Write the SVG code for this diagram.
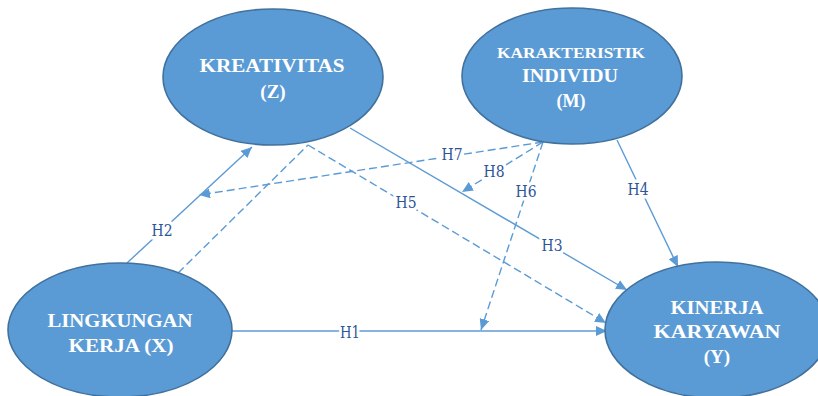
<svg xmlns="http://www.w3.org/2000/svg" width="818" height="396" viewBox="0 0 818 396">
<defs>
<marker id="ah" markerUnits="userSpaceOnUse" markerWidth="12" markerHeight="10" refX="11" refY="5" orient="auto">
<path d="M0,0 L11,5 L0,10 Z" fill="#5b9bd5"/>
</marker>
<style>
.node ellipse{fill:#5b9bd5;stroke:#41719c;stroke-width:1.6}
.node text{fill:#fff;font-family:"Liberation Serif","Times New Roman",serif;font-weight:bold;text-anchor:middle}
.c line{stroke:#5b9bd5;stroke-width:1.4;fill:none}
.c .d{stroke-dasharray:8 4}
.lbl{fill:#2e5597;font-family:"DejaVu Serif","Liberation Serif",serif;font-size:16px;text-anchor:middle;stroke:#fff;stroke-width:7;paint-order:stroke;stroke-linejoin:round}
</style>
</defs>
<rect width="818" height="396" fill="#fff"/>
<g class="c" id="connectors">
<line x1="232" y1="331" x2="607" y2="331" marker-end="url(#ah)"/>
<line x1="127" y1="263" x2="252" y2="147" marker-end="url(#ah)"/>
<line x1="350" y1="128" x2="627" y2="290" marker-end="url(#ah)"/>
<line x1="617" y1="140" x2="678" y2="267" marker-end="url(#ah)"/>
<line class="d" x1="308" y1="145" x2="606" y2="323" marker-end="url(#ah)"/>
<line class="d" x1="178" y1="273" x2="308" y2="145"/>
<line class="d" x1="543" y1="142" x2="481" y2="330" marker-end="url(#ah)"/>
<line class="d" x1="543" y1="142" x2="199" y2="195" marker-end="url(#ah)"/>
<line class="d" x1="543" y1="142" x2="462" y2="192" marker-end="url(#ah)"/>
<text class="lbl" x="350" y="338" textLength="20" lengthAdjust="spacingAndGlyphs">H1</text>
<text class="lbl" x="162" y="236" textLength="21" lengthAdjust="spacingAndGlyphs">H2</text>
<text class="lbl" x="552" y="251" textLength="21" lengthAdjust="spacingAndGlyphs">H3</text>
<text class="lbl" x="638" y="195" textLength="21" lengthAdjust="spacingAndGlyphs">H4</text>
<text class="lbl" x="406" y="208" textLength="21" lengthAdjust="spacingAndGlyphs">H5</text>
<text class="lbl" x="526" y="197" textLength="21" lengthAdjust="spacingAndGlyphs">H6</text>
<text class="lbl" x="452" y="160" textLength="21" lengthAdjust="spacingAndGlyphs">H7</text>
<text class="lbl" x="494" y="177" textLength="21" lengthAdjust="spacingAndGlyphs">H8</text>
</g>
<g class="node" id="kreativitas">
<ellipse cx="273" cy="77" rx="110" ry="68"/>
<text x="272" y="72" font-size="19" textLength="145" lengthAdjust="spacingAndGlyphs">KREATIVITAS</text>
<text x="273" y="98" font-size="19">(Z)</text>
</g>
<g class="node" id="karakteristik">
<ellipse cx="572" cy="76" rx="110" ry="68"/>
<text x="571" y="58" font-size="14" textLength="148" lengthAdjust="spacingAndGlyphs">KARAKTERISTIK</text>
<text x="570" y="82" font-size="18" textLength="96" lengthAdjust="spacingAndGlyphs">INDIVIDU</text>
<text x="571" y="107" font-size="18">(M)</text>
</g>
<g class="node" id="lingkungan">
<ellipse cx="120" cy="330" rx="112" ry="67"/>
<text x="120" y="327" font-size="19" textLength="145" lengthAdjust="spacingAndGlyphs">LINGKUNGAN</text>
<text x="121" y="352" font-size="19" textLength="105" lengthAdjust="spacingAndGlyphs">KERJA (X)</text>
</g>
<g class="node" id="kinerja">
<ellipse cx="717" cy="330" rx="112" ry="68"/>
<text x="717" y="314" font-size="19" textLength="93" lengthAdjust="spacingAndGlyphs">KINERJA</text>
<text x="717" y="338" font-size="19" textLength="127" lengthAdjust="spacingAndGlyphs">KARYAWAN</text>
<text x="717" y="363" font-size="19">(Y)</text>
</g>
</svg>
